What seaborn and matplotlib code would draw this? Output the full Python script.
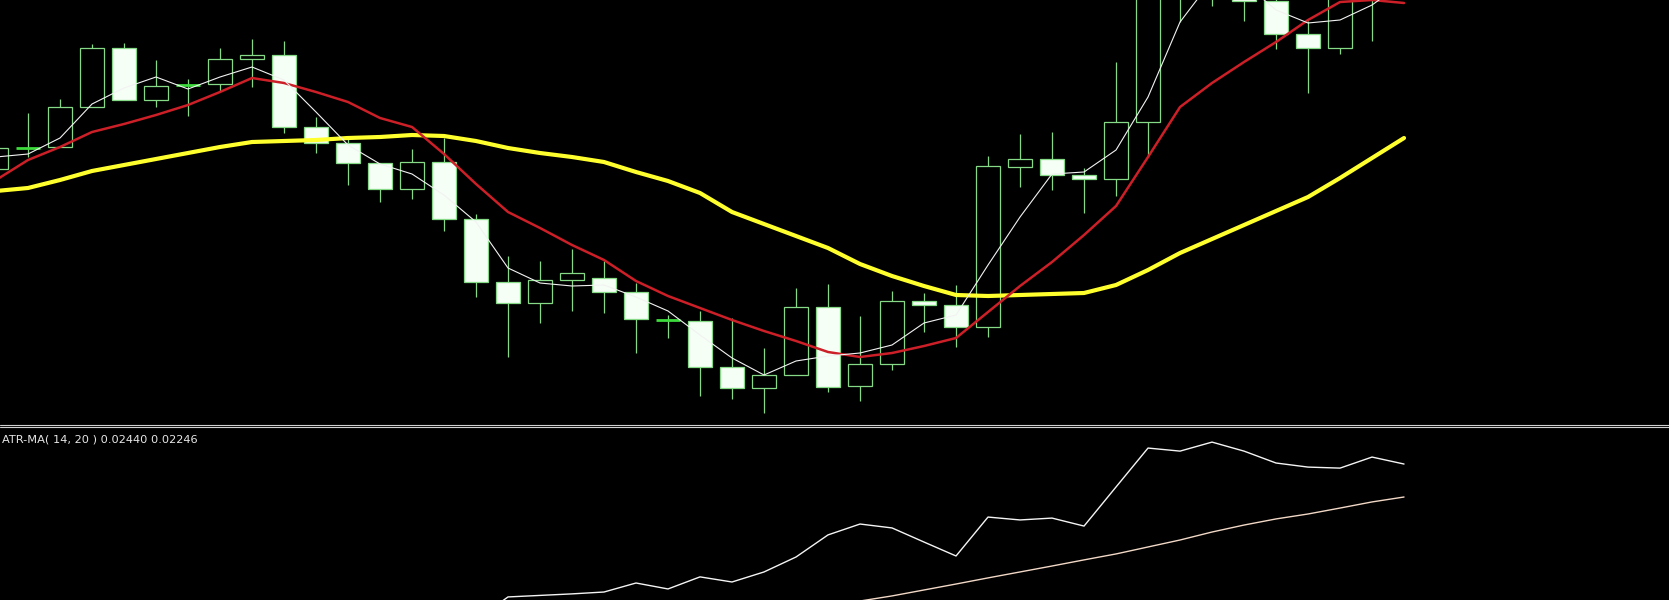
import numpy as np
import pandas as pd
import matplotlib
matplotlib.use("Agg")
import matplotlib.pyplot as plt
import seaborn as sns
from matplotlib.lines import Line2D

# ==========================================================
# 1. Price data (daily bars)
# ==========================================================
open_ = [1.3155, 1.3260, 1.3265, 1.3465, 1.3760, 1.3500, 1.3575, 1.3580, 1.3705, 1.3725,
         1.3365, 1.3285, 1.3185, 1.3055, 1.3190, 1.2905, 1.2590, 1.2485, 1.2600, 1.2610,
         1.2540, 1.2400, 1.2395, 1.2165, 1.2060, 1.2125, 1.2465, 1.2070, 1.2180, 1.2495,
         1.2475, 1.2365, 1.3165, 1.3205, 1.3125, 1.3105, 1.3390, 1.4050, 1.4230, 1.4025,
         1.3995, 1.3830, 1.3760, 1.4110, 1.4040]
high = [1.3290, 1.3435, 1.3505, 1.3780, 1.3785, 1.3700, 1.3605, 1.3760, 1.3805, 1.3795,
        1.3415, 1.3310, 1.3185, 1.3255, 1.3310, 1.2930, 1.2720, 1.2695, 1.2755, 1.2695,
        1.2585, 1.2425, 1.2445, 1.2410, 1.2260, 1.2560, 1.2580, 1.2420, 1.2545, 1.2535,
        1.2575, 1.3220, 1.3330, 1.3340, 1.3160, 1.3690, 1.4100, 1.4300, 1.4275, 1.4075,
        1.4015, 1.3895, 1.4175, 1.4200, 1.4200]
low = [1.3125, 1.3215, 1.3265, 1.3465, 1.3500, 1.3465, 1.3420, 1.3545, 1.3565, 1.3335,
       1.3235, 1.3075, 1.2990, 1.3005, 1.2845, 1.2515, 1.2215, 1.2385, 1.2445, 1.2435,
       1.2235, 1.2310, 1.2020, 1.2005, 1.1935, 1.2125, 1.2040, 1.1995, 1.2150, 1.2340,
       1.2265, 1.2315, 1.3065, 1.3050, 1.2935, 1.3020, 1.3215, 1.3890, 1.3970, 1.3895,
       1.3755, 1.3535, 1.3730, 1.3795, 1.4015]
close = [1.3260, 1.3260, 1.3465, 1.3760, 1.3500, 1.3570, 1.3575, 1.3705, 1.3725, 1.3365,
         1.3285, 1.3185, 1.3055, 1.3190, 1.2905, 1.2590, 1.2485, 1.2600, 1.2635, 1.2540,
         1.2405, 1.2400, 1.2165, 1.2060, 1.2125, 1.2465, 1.2065, 1.2180, 1.2495, 1.2475,
         1.2365, 1.3170, 1.3205, 1.3125, 1.3105, 1.3390, 1.4050, 1.4230, 1.4025, 1.3995,
         1.3830, 1.3760, 1.4110, 1.4040, 1.4125]

# moving averages drawn on the price pane (fast white, mid red, slow yellow)
ma_fast = [1.3215, 1.3230, 1.3310, 1.3480, 1.3560, 1.3615, 1.3555, 1.3615, 1.3665, 1.3600,
           1.3440, 1.3275, 1.3180, 1.3130, 1.3025, 1.2890, 1.2660, 1.2585, 1.2570, 1.2575,
           1.2515, 1.2445, 1.2325, 1.2210, 1.2125, 1.2195, 1.2220, 1.2235, 1.2275, 1.2385,
           1.2425, 1.2675, 1.2915, 1.3130, 1.3140, 1.3250, 1.3515, 1.3890, 1.4100, 1.4085,
           1.3950, 1.3885, 1.3900, 1.3975, 1.4090]
ma_mid = [1.3100, 1.3200, 1.3265, 1.3340, 1.3380, 1.3425, 1.3475, 1.3540, 1.3610, 1.3585,
          1.3540, 1.3490, 1.3410, 1.3365, 1.3230, 1.3080, 1.2940, 1.2860, 1.2775, 1.2700,
          1.2595, 1.2520, 1.2460, 1.2400, 1.2345, 1.2295, 1.2240, 1.2215, 1.2235, 1.2270,
          1.2310, 1.2440, 1.2570, 1.2690, 1.2825, 1.2970, 1.3215, 1.3465, 1.3585, 1.3690,
          1.3790, 1.3900, 1.3990, 1.4000, 1.3985]
ma_slow = [1.3045, 1.3060, 1.3100, 1.3145, 1.3175, 1.3205, 1.3235, 1.3265, 1.3290, 1.3295,
           1.3300, 1.3310, 1.3315, 1.3325, 1.3320, 1.3295, 1.3260, 1.3235, 1.3215, 1.3190,
           1.3140, 1.3095, 1.3035, 1.2940, 1.2880, 1.2820, 1.2760, 1.2680, 1.2620, 1.2570,
           1.2525, 1.2520, 1.2525, 1.2530, 1.2535, 1.2575, 1.2650, 1.2735, 1.2805, 1.2875,
           1.2945, 1.3015, 1.3110, 1.3210, 1.3310]

# ATR(14) and its MA(20); early values lie below the visible pane
nan = np.nan
atr = [nan] * 15 + [
    0.01523, 0.01658, 0.01667, 0.01676, 0.01687, 0.01740, 0.01705, 0.01776, 0.01746, 0.01805,
    0.01893, 0.02023, 0.02087, 0.02064, 0.01981, 0.01899, 0.02128, 0.02111, 0.02122, 0.02075,
    0.02305, 0.02534, 0.02516, 0.02569, 0.02516, 0.02446, 0.02422, 0.02416, 0.02481, 0.02440]
atr_ma = [nan] * 26 + [
    0.01599, 0.01634, 0.01664, 0.01699, 0.01734, 0.01770, 0.01805, 0.01840, 0.01876, 0.01911,
    0.01952, 0.01993, 0.02040, 0.02081, 0.02117, 0.02146, 0.02181, 0.02217, 0.02246]

atr_label = "ATR-MA( 14, 20 ) 0.02440 0.02246"

df = pd.DataFrame({"bar": np.arange(len(close)), "open": open_, "high": high,
                   "low": low, "close": close, "ma_fast": ma_fast, "ma_mid": ma_mid,
                   "ma_slow": ma_slow, "atr": atr, "atr_ma": atr_ma})

# ==========================================================
# 2. Terminal-style black layout with two stacked panes
# ==========================================================
sns.set_theme(style="dark", rc={"axes.facecolor": "black", "figure.facecolor": "black"})
plt.rcParams["font.family"] = ["DejaVu Sans"]

W, H = 1669, 600
fig = plt.figure(figsize=(W / 100, H / 100), dpi=100)
ax = fig.add_axes([0, 175 / H, 1, 425 / H])
ax_atr = fig.add_axes([0, 0, 1, 172 / H])

GREEN = "#86d986"
DOJI = "#3ddc3d"

# wicks first, bodies on top
ax.vlines(df["bar"], df["low"], df["high"], color=GREEN, linewidth=0.9, zorder=2)

bull = df["close"] >= df["open"]
body_bottom = np.minimum(df["open"], df["close"])
body_height = (df["close"] - df["open"]).abs()
doji = body_height == 0

ax.bar(df["bar"][~doji], body_height[~doji], bottom=body_bottom[~doji], width=0.75,
       color=np.where(bull[~doji], "black", "#f5fff5"), edgecolor=GREEN,
       linewidth=0.9, zorder=3)
ax.hlines(df["close"][doji], df["bar"][doji] - 0.375, df["bar"][doji] + 0.375,
          color=DOJI, linewidth=2.0, zorder=3)

sns.lineplot(data=df, x="bar", y="ma_slow", ax=ax, color="#ffff2e", linewidth=3.0,
             sort=False, estimator=None, zorder=4)
sns.lineplot(data=df, x="bar", y="ma_mid", ax=ax, color="#cc1f27", linewidth=1.8,
             sort=False, estimator=None, zorder=5)
sns.lineplot(data=df, x="bar", y="ma_fast", ax=ax, color="#f2f2f2", linewidth=0.8,
             sort=False, estimator=None, zorder=6)

sns.lineplot(data=df, x="bar", y="atr_ma", ax=ax_atr, color="#f2d8c6", linewidth=1.0,
             sort=False, estimator=None)
sns.lineplot(data=df, x="bar", y="atr", ax=ax_atr, color="#f4f4f4", linewidth=1.0,
             sort=False, estimator=None)

# bar spacing of 32 px with the first bar partly cut at the left edge
for a in (ax, ax_atr):
    a.set_xlim(0.125, 52.28)
    a.set_xticks([])
    a.set_yticks([])
    a.set_xlabel("")
    a.set_ylabel("")
    a.set_facecolor("black")
    for s in a.spines.values():
        s.set_visible(False)

ax.set_ylim(1.1875, 1.4000)
ax_atr.set_ylim(0.01640, 0.02652)

ax_atr.text(0.0012, 0.915, atr_label, transform=ax_atr.transAxes, color="#e6e6e6",
            fontsize=8.2, va="baseline", ha="left")

# pane separator (double rule)
for yp in (425.0, 427.3):
    fig.add_artist(Line2D([0, 1], [1 - yp / H, 1 - yp / H], transform=fig.transFigure,
                          color="#d0d0d0", linewidth=0.8))

fig.savefig("out.png", dpi=100, facecolor="black")
plt.close(fig)
